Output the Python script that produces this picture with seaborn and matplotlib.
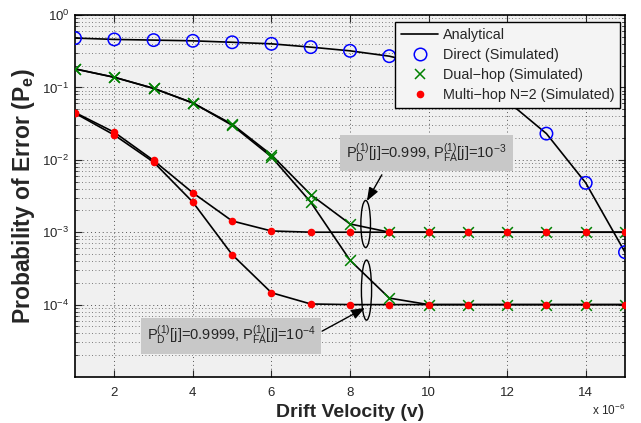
import numpy as np
import pandas as pd
import matplotlib
matplotlib.use("Agg")
import matplotlib.pyplot as plt
from matplotlib.patches import Ellipse
from matplotlib.lines import Line2D
import seaborn as sns

# ---------------- data ----------------
v = [1, 2, 3, 4, 5, 6, 7, 8, 9, 10, 11, 12, 13, 14, 15]
direct = [0.48, 0.46, 0.45, 0.44, 0.42, 0.40, 0.36, 0.32, 0.27, 0.20, 0.13, 0.065, 0.023, 0.0048, 0.00053]
dual_a = [0.18, 0.138, 0.097, 0.061, 0.031, 0.0117, 0.0033, 0.0013, 0.001, 0.001, 0.001, 0.001, 0.001, 0.001, 0.001]
dual_b = [0.18, 0.138, 0.097, 0.061, 0.030, 0.011, 0.0026, 0.00041, 0.000123, 0.0001, 0.0001, 0.0001, 0.0001, 0.0001, 0.0001]
multi_a = [0.045, 0.024, 0.0098, 0.0035, 0.00143, 0.00104, 0.001, 0.001, 0.001, 0.001, 0.001, 0.001, 0.001, 0.001, 0.001]
multi_b = [0.044, 0.022, 0.0093, 0.0026, 0.00049, 0.000146, 0.000102, 0.0001, 0.0001, 0.0001, 0.0001, 0.0001, 0.0001, 0.0001, 0.0001]
x_ticks = [2, 4, 6, 8, 10, 12, 14]
legend_labels = ["Analytical", "Direct (Simulated)", "Dual\u2212hop (Simulated)", "Multi\u2212hop N=2 (Simulated)"]
note_a = r"P$_{\mathrm{D}}^{(1)}$[j]=0.999, P$_{\mathrm{FA}}^{(1)}$[j]=10$^{-3}$"
note_b = r"P$_{\mathrm{D}}^{(1)}$[j]=0.9999, P$_{\mathrm{FA}}^{(1)}$[j]=10$^{-4}$"

curves = {"direct": direct, "dual_a": dual_a, "dual_b": dual_b,
          "multi_a": multi_a, "multi_b": multi_b}
df = pd.concat([pd.DataFrame({"v": v, "pe": vals, "curve": name,
                              "kind": name.split("_")[0]})
                for name, vals in curves.items()], ignore_index=True)

# ---------------- style ----------------
sns.set_style("ticks")
plt.rcParams["font.family"] = ["Liberation Sans", "DejaVu Sans"]
plt.rcParams["mathtext.fontset"] = "custom"
plt.rcParams["mathtext.rm"] = "Liberation Sans"
plt.rcParams["mathtext.it"] = "Liberation Sans:italic"
plt.rcParams["mathtext.bf"] = "Liberation Sans:bold"

fig = plt.figure(figsize=(6.41, 4.23), dpi=100)
ax = fig.add_axes([75 / 641, 1 - 377 / 423, 550 / 641, 362 / 423])
ax.set_facecolor("#f0f0f0")

# analytical lines
sns.lineplot(data=df, x="v", y="pe", units="curve", estimator=None,
             color="black", linewidth=1.2, ax=ax, legend=False, zorder=3)

# simulated markers
sns.scatterplot(data=df[df.kind == "direct"], x="v", y="pe", marker="o",
                s=80, facecolor="none", edgecolor="#0000ff", linewidth=1.1,
                ax=ax, legend=False, zorder=4)
sns.scatterplot(data=df[df.kind == "dual"], x="v", y="pe", marker="x",
                s=60, color="#008000", linewidth=1.1, ax=ax, legend=False, zorder=5)
sns.scatterplot(data=df[df.kind == "multi"], x="v", y="pe", marker="o",
                s=30, color="#ff0000", edgecolor="#ff0000", linewidth=0,
                ax=ax, legend=False, zorder=6)

ax.set_yscale("log")
ax.set_xlim(1, 15)
ax.set_ylim(1e-5, 1)
ax.set_xticks(x_ticks)
ax.set_xticklabels([str(t) for t in x_ticks])
ax.set_yticks([1e-4, 1e-3, 1e-2, 1e-1, 1e0])
ax.set_yticklabels([r"10$^{-4}$", r"10$^{-3}$", r"10$^{-2}$", r"10$^{-1}$", r"10$^{0}$"])
ax.tick_params(which="both", direction="in", top=True, right=True, labelsize=9.5)
ax.tick_params(which="major", length=5, width=0.8)
ax.tick_params(which="minor", length=2.5, width=0.6)
ax.tick_params(axis="x", pad=7)
ax.tick_params(axis="y", pad=4)
for sp in ax.spines.values():
    sp.set_linewidth(1.2)
    sp.set_color("black")

dot = (0, (1, 3))
ax.grid(True, which="major", axis="both", linestyle=dot, color="#555555", linewidth=0.7)
ax.grid(True, which="minor", axis="y", linestyle=dot, color="#555555", linewidth=0.6)
ax.set_axisbelow(True)

ax.set_xlabel("Drift Velocity (v)", fontsize=14, fontweight="bold", labelpad=4)
ax.set_ylabel(r"Probability of Error (P$_{\mathbf{e}}$)", fontsize=16.5,
              fontweight="bold", labelpad=4)
ax.text(1.0, -0.072, r"x 10$^{-6}$", transform=ax.transAxes, ha="right",
        va="top", fontsize=8.5)

# legend
handles = [Line2D([], [], color="black", lw=1.2),
           Line2D([], [], ls="none", marker="o", ms=9, mfc="none", mec="#0000ff", mew=1.1),
           Line2D([], [], ls="none", marker="x", ms=7.5, color="#008000", mew=1.1),
           Line2D([], [], ls="none", marker="o", ms=4.5, color="#ff0000")]
leg = ax.legend(handles, legend_labels, loc="upper right",
                bbox_to_anchor=(0.991, 0.981), borderaxespad=0, fontsize=10.4,
                frameon=True, fancybox=False, edgecolor="black", framealpha=1,
                handlelength=2.6, labelspacing=0.42, borderpad=0.4,
                handletextpad=0.3)
leg.get_frame().set_facecolor("#f4f4f4")
leg.get_frame().set_linewidth(1.0)
leg.set_zorder(10)

# annotations: ellipses + labelled arrows
ax.add_patch(Ellipse((0.5285, 0.4227), 0.0175, 0.13, transform=ax.transAxes,
                     fill=False, edgecolor="black", lw=1.0, zorder=7))
ax.add_patch(Ellipse((0.5300, 0.240), 0.0185, 0.166, transform=ax.transAxes,
                     fill=False, edgecolor="black", lw=1.0, zorder=7))

box = dict(boxstyle="square,pad=0.42", facecolor="#c8c8c8", edgecolor="none")
ax.text(9.95, 0.0124, note_a, ha="center", va="center", fontsize=10.5,
        bbox=box, zorder=8)
ax.text(4.97, 3.7e-5, note_b, ha="center", va="center", fontsize=10.5,
        bbox=box, zorder=8)
arrow = dict(arrowstyle="-|>,head_length=0.8,head_width=0.3", color="black",
             lw=1.0, shrinkA=0, shrinkB=0)
ax.annotate("", xy=(8.43, 2.7e-3), xytext=(8.81, 6.2e-3), arrowprops=arrow, zorder=8)
ax.annotate("", xy=(8.38, 9.0e-5), xytext=(7.29, 4.3e-5), arrowprops=arrow, zorder=8)

fig.savefig("out.png", dpi=100)
